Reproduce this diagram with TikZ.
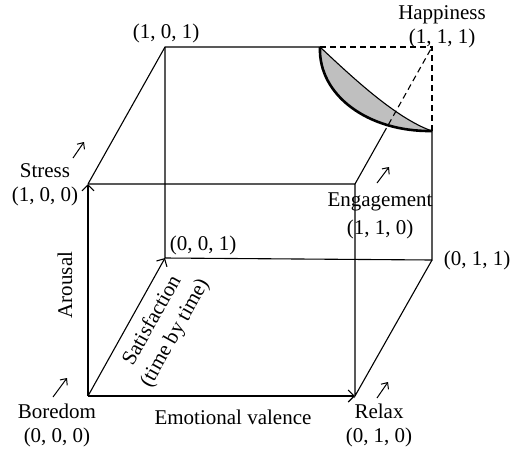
\documentclass[tikz,border=0pt]{standalone}
\usepackage{fontspec}
\setmainfont{Liberation Serif}
\usepackage{tikz}
\usetikzlibrary{arrows.meta,positioning,calc}

\begin{document}
\begin{tikzpicture}[
  x=0.5pt, y=-0.5pt,
  lbl/.style={align=center, inner sep=1pt,
              font=\fontsize{10.5}{12}\selectfont},
  edge/.style={line width=0.55pt},
  axis/.style={edge, -{Straight Barb[length=3pt,width=6pt]}},
  hint/.style={line width=0.5pt, -{Straight Barb[length=2.5pt,width=4.5pt]}},
  hidden/.style={edge, dash pattern=on 3pt off 2pt}]
\useasboundingbox (0,0) rectangle (514,450);

% corners of the cube
\coordinate (O)  at (88,396);   % (0,0,0)
\coordinate (Y)  at (355,396);  % (0,1,0)
\coordinate (X)  at (88,184);   % (1,0,0)
\coordinate (XY) at (355,184);  % (1,1,0)
\coordinate (Z)  at (165,258);  % (0,0,1)
\coordinate (YZ) at (432,260);  % (0,1,1)
\coordinate (XZ) at (165,47);   % (1,0,1)
\coordinate (H)  at (432,47);   % (1,1,1)
% shaded corner
\coordinate (A) at (320,47);
\coordinate (B) at (432,131);
\coordinate (C) at ($(XY)!0.37!(H)$);

\fill[gray!50] (A) .. controls (318,95) and (368,132) .. (B)
  .. controls (395,118) and (350,75) .. (A);
\draw[line width=1.3pt] (A) .. controls (318,95) and (368,132) .. (B);
\draw[edge] (B) .. controls (395,118) and (350,75) .. (A);

\draw[edge] (X) -- (XY) -- (Y) -- (YZ);
\draw[edge] (X) -- (XZ) -- (A);
\draw[edge] (XZ) -- (Z) -- (YZ) -- (B);
\draw[edge] (XY) -- (C);
\draw[hidden] (C) -- (H);
\draw[hidden] (A) -- (H) -- (B);

\draw[axis] (O) -- (Y);
\draw[axis] (O) -- (X);
\draw[axis] (O) -- (Z);

% labels
\node[lbl] (n101) at (166,33) {(1, 0, 1)};
\node[lbl] (happy) at (442,27) {Happiness\\(1, 1, 1)};
\node[lbl] (stress) at (45,185) {Stress\\(1, 0, 0)};
\node[lbl] (engage) at (380,216) {Engagement\\[2pt](1, 1, 0)};
\node[lbl] (n011) at (477,260) {(0, 1, 1)};
\node[lbl] (n001) at (203,245) {(0, 0, 1)};
\node[lbl] (bored) at (57,425) {Boredom\\(0, 0, 0)};
\node[lbl] (relax) at (379,425) {Relax\\(0, 1, 0)};
\node[lbl] (valence) at (233,417) {Emotional valence};
\node[lbl, rotate=90] (arousal) at (65,285) {Arousal};
\node[lbl, rotate=60.8] (satis) at (164,327) {Satisfaction\\[1pt](time by time)};

% small pointers
\coordinate (s1) at (73,158);  \coordinate (s2) at (84,142);
\coordinate (b1) at (53,397);  \coordinate (b2) at (67,378);
\coordinate (r1) at (377,398); \coordinate (r2) at (388,382);
\coordinate (e1) at (377,183); \coordinate (e2) at (389,167);
\draw[hint] (s1) -- (s2);
\draw[hint] (b1) -- (b2);
\draw[hint] (r1) -- (r2);
\draw[hint] (e1) -- (e2);
\end{tikzpicture}
\end{document}
